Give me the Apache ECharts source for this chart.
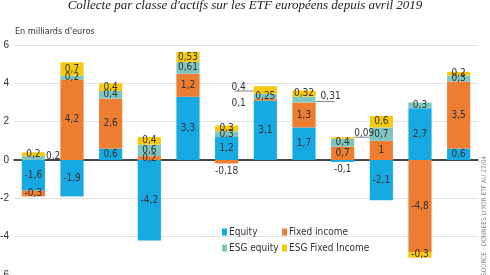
<!DOCTYPE html>
<html><head><meta charset="utf-8">
<script src="https://cdn.jsdelivr.net/npm/echarts@6/dist/echarts.min.js"></script>
<style>html,body{margin:0;padding:0;background:#fff}#c{width:490px;height:275px}</style>
</head><body><div id="c"></div>
<script>
// ---- Data ----
const categories = ['avr. 19','mai 19','juin 19','juil. 19','août 19','sept. 19','oct. 19','nov. 19','déc. 19','janv. 20','févr. 20','mars 20'];
const equity         = [-1.6, -1.9, 0.6, -4.2, 3.3, 1.2, 3.1, 1.7, -0.1, -2.1, 2.7, 0.6];
const fixedIncome    = [-0.3, 4.2, 2.6, 0.2, 1.2, -0.18, 0.1, 1.3, 0.7, 1, -4.8, 3.5];
const esgEquity      = [0.2, 0.2, 0.4, 0.6, 0.61, 0.3, 0.25, 0.31, 0.4, 0.7, 0.3, 0.3];
const esgFixedIncome = [0.2, 0.7, 0.4, 0.4, 0.53, 0.3, 0.4, 0.32, 0.09, 0.6, -0.3, 0.2];
const yTicks = [-6, -4, -2, 0, 2, 4, 6];
const seriesNames = ['Equity', 'Fixed income', 'ESG equity', 'ESG Fixed Income'];

// ---- Styles ----
const COND = "'Liberation Sans Narrow','DejaVu Sans Condensed','Roboto',sans-serif";
const COLORS = ['#17a9e1', '#ec7d31', '#7fc6c0', '#f6c915'];
const fmt = v => String(v).replace('.', ',');
const labelOverrides = {
  equity: {8: {position: 'bottom', distance: 2}},
  fixedIncome: {5: {position: 'bottom', distance: 3}, 6: {position: 'left', distance: 8, offset: [0, 4]}},
  esgEquity: {0: {position: 'right', distance: 1, offset: [0, -2]}, 7: {position: 'right', distance: 5, offset: [0, -3]}},
  esgFixedIncome: {6: {position: 'left', distance: 8, offset: [0, -3]}, 8: {position: 'right', distance: 0, offset: [0, -5]}}
};

function mk(idx, key, data) {
  return {
    name: seriesNames[idx], type: 'bar', stack: 'total', barWidth: '60%',
    itemStyle: {color: COLORS[idx]},
    label: {show: true, position: 'inside', fontFamily: COND, fontSize: 10, color: '#333',
      formatter: p => fmt(p.value)},
    data: data.map((v, i) => {
      const o = labelOverrides[key] && labelOverrides[key][i];
      return o ? {value: v, label: Object.assign({}, o)} : v;
    })
  };
}

const chart = echarts.init(document.getElementById('c'));
const legItem = (name, left, top) => ({
  data: [name], left, top, padding: 0, itemGap: 0, icon: 'rect', itemWidth: 5, itemHeight: 7,
  selectedMode: false,
  textStyle: {fontFamily: COND, fontSize: 10, color: '#333', padding: [0, 0, 0, -3]}
});

chart.setOption({
  animation: false,
  title: {
    text: "Collecte par classe d'actifs sur les ETF européens depuis avril 2019",
    left: 'center', top: -6,
    textStyle: {fontFamily: "'Liberation Serif','DejaVu Serif',serif", fontStyle: 'italic', fontWeight: 'normal', fontSize: 13, color: '#222'}
  },
  grid: {left: 14, right: 12, top: 45, bottom: 0, containLabel: false, outerBoundsMode: 'none'},
  legend: [
    legItem(seriesNames[0], 222, 227),
    legItem(seriesNames[1], 282, 227),
    legItem(seriesNames[2], 222, 243),
    legItem(seriesNames[3], 282, 243)
  ],
  xAxis: {
    type: 'category', data: categories,
    axisLine: {show: true, onZero: true, lineStyle: {color: '#111', width: 1.5}},
    axisTick: {show: false}, axisLabel: {show: false}
  },
  yAxis: {
    type: 'value', min: yTicks[0], max: yTicks[yTicks.length - 1], interval: 2,
    axisLine: {show: false}, axisTick: {show: false},
    axisLabel: {margin: 5, fontFamily: "'Liberation Sans',Arial,sans-serif", fontSize: 10, color: '#333'},
    splitLine: {lineStyle: {color: '#e2e2e2', width: 1}}
  },
  series: [
    mk(0, 'equity', equity),
    mk(1, 'fixedIncome', fixedIncome),
    mk(2, 'esgEquity', esgEquity),
    mk(3, 'esgFixedIncome', esgFixedIncome)
  ]
});

// leader underlines, positioned through the chart's own scales
const px = (i, v) => chart.convertToPixel({xAxisIndex: 0, yAxisIndex: 0}, [i, v]);
const step = px(1, 0)[0] - px(0, 0)[0];
const half = step * 0.3;
function posTop(i) { return [equity, fixedIncome, esgEquity, esgFixedIncome].reduce((s, a) => s + (a[i] > 0 ? a[i] : 0), 0); }
const lines = [];
{
  const i = 6, v = equity[i] + fixedIncome[i] + esgEquity[i] + esgFixedIncome[i] / 2;
  const p = px(i, v);
  lines.push([p[0] - half - 19, p[1] + 1, p[0] - half, p[1] + 1]);
}
{
  const i = 7, v = equity[i] + fixedIncome[i] + esgEquity[i] / 2;
  const p = px(i, v);
  lines.push([p[0] + half, p[1] + 2, p[0] + half + 19, p[1] + 2]);
}
{
  const i = 8, p = px(i, posTop(i));
  lines.push([p[0] + half, p[1], p[0] + half + 16, p[1]]);
}
chart.setOption({
  graphic: [
    {type: 'text', left: 15, top: 27, style: {text: "En milliards d'euros", font: "9px " + COND, fill: '#333'}},
    {type: 'text', x: 484, y: 216, rotation: Math.PI / 2,
      style: {text: 'SOURCE : DONNEES LYXOR ETF AU 27/04', font: '6.5px ' + COND, fill: '#888', align: 'center', verticalAlign: 'middle'}},
    ...lines.map(l => ({type: 'line', shape: {x1: l[0], y1: l[1], x2: l[2], y2: l[3]}, style: {stroke: '#666', lineWidth: 0.8}}))
  ]
});
</script></body></html>
